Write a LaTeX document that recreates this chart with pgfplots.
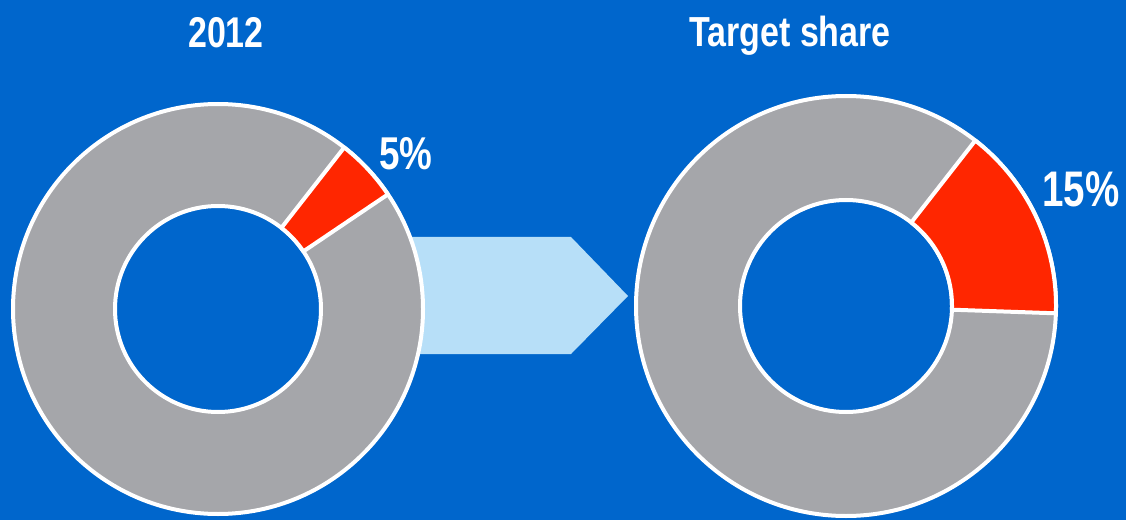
\documentclass[border=0pt]{standalone}
\usepackage{pgfplots}
\pgfplotsset{compat=1.18}
\usepackage{pgfplotstable}
\usepackage{graphicx}
\usepackage{fontspec}
\setmainfont{Liberation Sans}
\usetikzlibrary{calc}

\definecolor{bg}{HTML}{0066CC}
\definecolor{ring}{HTML}{A5A6AA}
\definecolor{hot}{HTML}{FF2600}
\definecolor{arrowfill}{HTML}{B7DFF8}

% share of the red slice, in percent
\pgfplotstableread{
period share
2012   5
target 15
}\shares
\pgfplotstablegetelem{0}{share}\of\shares \let\shareA\pgfplotsretval
\pgfplotstablegetelem{1}{share}\of\shares \let\shareB\pgfplotsretval

\begin{document}
\begin{tikzpicture}
\begin{axis}[
    x=1pt, y=1pt, scale only axis,
    xmin=0, xmax=1126, ymin=0, ymax=520,
    hide axis, clip=false,
]
    % background
    \fill[bg] (axis cs:0,0) rectangle (axis cs:1126,520);

    % arrow between the rings
    \addplot[fill=arrowfill, draw=none] coordinates
      {(400,166) (571,166) (628,224) (571,283) (400,283)} -- cycle;

    % left ring (2012)
    \fill[ring, even odd rule] (axis cs:218,211) circle[radius=205pt]
                               (axis cs:218,211) circle[radius=103pt];
    \draw[white, line width=4pt] (axis cs:218,211) circle[radius=205pt];
    \draw[white, line width=4pt] (axis cs:218,211) circle[radius=103pt];
    \filldraw[fill=hot, draw=white, line width=4pt, line join=round]
      ($(axis cs:218,211)+(52:205pt)$)
      arc[start angle=52, end angle={52-3.6*\shareA}, radius=205pt]
      -- ($(axis cs:218,211)+({52-3.6*\shareA}:103pt)$)
      arc[start angle={52-3.6*\shareA}, end angle=52, radius=103pt]
      -- cycle;

    % right ring (target)
    \fill[ring, even odd rule] (axis cs:846,214) circle[radius=210pt]
                               (axis cs:846,214) circle[radius=106pt];
    \draw[white, line width=4pt] (axis cs:846,214) circle[radius=210pt];
    \draw[white, line width=4pt] (axis cs:846,214) circle[radius=106pt];
    \filldraw[fill=hot, draw=white, line width=4pt, line join=round]
      ($(axis cs:846,214)+(52:210pt)$)
      arc[start angle=52, end angle={52-3.6*\shareB}, radius=210pt]
      -- ($(axis cs:846,214)+({52-3.6*\shareB}:106pt)$)
      arc[start angle={52-3.6*\shareB}, end angle=52, radius=106pt]
      -- cycle;

    % titles and labels
    \node[white, anchor=base, inner sep=0pt, font=\bfseries\fontsize{43}{43}\selectfont]
      at (axis cs:226,472) {\scalebox{0.79}[1]{2012}};
    \node[white, anchor=base, inner sep=0pt, font=\bfseries\fontsize{42}{42}\selectfont]
      at (axis cs:790,473) {\scalebox{0.81}[1]{Target share}};
    \node[white, anchor=base, inner sep=0pt, font=\bfseries\fontsize{46}{46}\selectfont]
      at (axis cs:406,350) {\scalebox{0.8}[1]{\shareA\%}};
    \node[white, anchor=base, inner sep=0pt, font=\bfseries\fontsize{50}{50}\selectfont]
      at (axis cs:1081,313) {\scalebox{0.77}[1]{\shareB\%}};
\end{axis}
\end{tikzpicture}
\end{document}
